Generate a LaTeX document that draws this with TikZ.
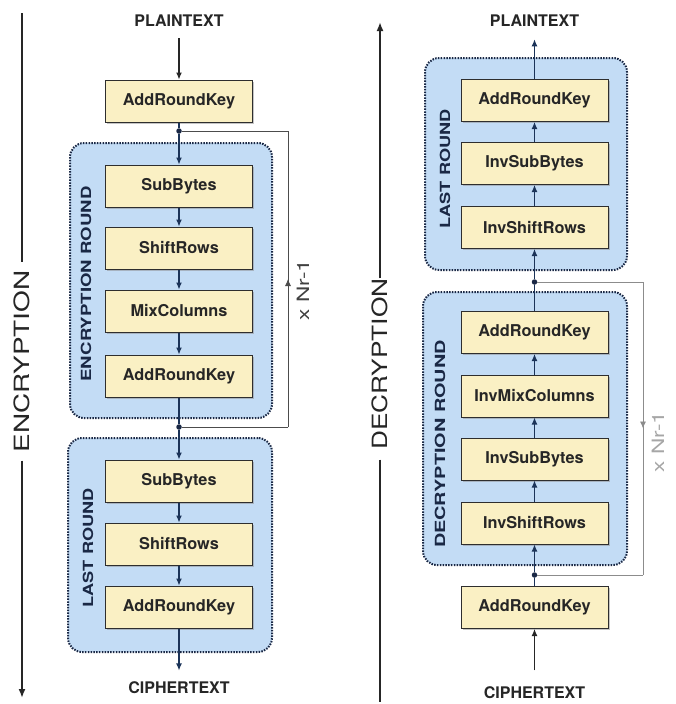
\documentclass[tikz,border=0pt]{standalone}
\usepackage{fontspec}
\setmainfont{TeX Gyre Heros}
\usepackage{graphicx}
\usetikzlibrary{arrows.meta,shadows,decorations.markings}
\definecolor{boxyellow}{HTML}{FAF0C4}
\definecolor{boxline}{HTML}{2E2E2E}
\definecolor{roundblue}{HTML}{C3DCF5}
\definecolor{navy}{HTML}{1A2845}
\definecolor{arrowblue}{HTML}{1B3358}
\begin{document}
\begin{tikzpicture}[x=1pt,y=-1pt,
  blk/.style={draw=boxline, line width=1pt, fill=boxyellow, minimum width=147pt, minimum height=42pt,
    font=\bfseries\fontsize{16.3}{18}\selectfont, text=black!85,
    drop shadow={shadow xshift=1.5pt, shadow yshift=-1.5pt, fill=black!45}},
  grp/.style={draw=navy, fill=roundblue, line width=2pt, dash pattern=on 1.5pt off 1.3pt, rounded corners=14pt},
  grplabel/.style={rotate=90, font=\bfseries\fontsize{14}{16}\selectfont, text=navy},
  io/.style={font=\bfseries\fontsize{16}{18}\selectfont, text=black!85},
  arr/.style={draw=arrowblue, line width=1.1pt, -{Latex[length=7pt,width=6pt]}},
  inarr/.style={draw=black!85, line width=1.1pt, -{Latex[length=7pt,width=6pt]}},
  flow/.style={draw=arrowblue, line width=1.1pt},
  midarrow/.style={postaction={decorate}, decoration={markings, mark=at position 0.5 with {\arrow{Latex[length=7pt,width=6pt]}}}},
  sideline/.style={draw=black!85, line width=1.8pt},
  sidelab/.style={rotate=90, font=\fontsize{21}{24}\selectfont, text=black!85, inner sep=0pt},
  dot/.style={circle, fill=navy, inner sep=0pt, minimum size=5.5pt}
]
\useasboundingbox[fill=white] (0,0) rectangle (675,704);

% ---------- containers ----------
\node[grp, minimum width=202pt, minimum height=275pt] (encround) at (171,280.5) {};
\node[grp, minimum width=204pt, minimum height=214pt] (lastL) at (170,545) {};
\node[grp, minimum width=202pt, minimum height=212pt] (lastR) at (526,164) {};
\node[grp, minimum width=204pt, minimum height=273pt] (decround) at (525,428.5) {};

\node[grplabel] (encroundlab) at (86,284) {\scalebox{1.33}[1]{ENCRYPTION ROUND}};
\node[grplabel] (lastLlab) at (88,548) {\scalebox{1.3}[1]{LAST ROUND}};
\node[grplabel] (lastRlab) at (445,169) {\scalebox{1.3}[1]{LAST ROUND}};
\node[grplabel] (decroundlab) at (440,444) {\scalebox{1.42}[1]{DECRYPTION ROUND}};

% ---------- encryption column ----------
\node[io] (ptL) at (179,21) {PLAINTEXT};
\node[blk] (a0) at (179,101) {AddRoundKey};
\node[blk] (sb1) at (179,186) {SubBytes};
\node[blk] (sr1) at (179,248) {ShiftRows};
\node[blk] (mc1) at (179,311) {MixColumns};
\node[blk] (a1) at (179,376) {AddRoundKey};
\node[blk] (sb2) at (179,481) {SubBytes};
\node[blk] (sr2) at (179,544) {ShiftRows};
\node[blk] (a2) at (179,607) {AddRoundKey};
\node[io] (ctL) at (179,688) {CIPHERTEXT};

\node[dot] (d1) at (179,131) {};
\node[dot] (d2) at (179,427) {};
\coordinate (l1) at (288,131);
\coordinate (l2) at (288,427);

\draw[inarr, shorten <=8pt] (ptL) -- (a0);
\draw[flow] (a0) -- (d1);
\draw[arr] (d1) -- (sb1);
\draw[arr] (sb1) -- (sr1);
\draw[arr] (sr1) -- (mc1);
\draw[arr] (mc1) -- (a1);
\draw[flow] (a1) -- (d2);
\draw[arr] (d2) -- (sb2);
\draw[arr] (sb2) -- (sr2);
\draw[arr] (sr2) -- (a2);
\draw[arr, shorten >=8pt] (a2) -- (ctL);

\draw[draw=black!70, line width=0.9pt] (d1) -- (l1);
\draw[draw=black!70, line width=0.9pt] (l2) -- (d2);
\draw[draw=black!70, line width=0.9pt, midarrow] (l2) -- (l1);
\node[rotate=90, font=\fontsize{17}{20}\selectfont, text=black!75] (nrL) at (303,290) {\scalebox{1.33}[1]{x Nr-1}};

% ---------- decryption column ----------
\node[io] (ptR) at (534.5,21) {PLAINTEXT};
\node[blk] (ra3) at (534.5,100.5) {AddRoundKey};
\node[blk] (risb2) at (534.5,163.5) {InvSubBytes};
\node[blk] (risr2) at (534.5,227.5) {InvShiftRows};
\node[blk] (ra2) at (534.5,332.5) {AddRoundKey};
\node[blk] (rimc) at (534.5,396) {InvMixColumns};
\node[blk] (risb1) at (534.5,459) {InvSubBytes};
\node[blk] (risr1) at (534.5,523) {InvShiftRows};
\node[blk] (ra0) at (534.5,607.5) {AddRoundKey};
\node[io] (ctR) at (534.5,693) {CIPHERTEXT};

\node[dot] (d3) at (534.5,282) {};
\node[dot] (d4) at (534.5,575) {};
\coordinate (r1) at (643,282);
\coordinate (r2) at (643,575);

\draw[inarr, shorten <=13pt] (ctR) -- (ra0);
\draw[flow] (ra0) -- (d4);
\draw[arr] (d4) -- (risr1);
\draw[arr] (risr1) -- (risb1);
\draw[arr] (risb1) -- (rimc);
\draw[arr] (rimc) -- (ra2);
\draw[flow] (ra2) -- (d3);
\draw[arr] (d3) -- (risr2);
\draw[arr] (risr2) -- (risb2);
\draw[arr] (risb2) -- (ra3);
\draw[arr, shorten >=9pt] (ra3) -- (ptR);

\draw[draw=black!45, line width=0.9pt] (d3) -- (r1);
\draw[draw=black!45, line width=0.9pt] (r2) -- (d4);
\draw[draw=black!45, line width=0.9pt, midarrow] (r1) -- (r2);
\node[rotate=90, font=\fontsize{17}{20}\selectfont, text=black!35] (nrR) at (658,442) {\scalebox{1.33}[1]{x Nr-1}};

% ---------- side labels ----------
\node[sidelab] (enclab) at (22,361.5) {\scalebox{1.33}[1]{ENCRYPTION}};
\coordinate (e1) at (22,13);
\coordinate (e4) at (22,698);
\draw[sideline, shorten >=8pt] (e1) -- (enclab.east);
\draw[sideline, shorten <=8pt, -{Latex[length=9pt,width=7pt]}] (enclab.west) -- (e4);

\node[sidelab] (declab) at (380,364) {\scalebox{1.25}[1]{DECRYPTION}};
\coordinate (f1) at (380,14);
\coordinate (f4) at (380,702);
\draw[sideline, shorten >=8pt, -{Latex[length=9pt,width=7pt]}] (declab.east) -- (f1);
\draw[sideline, shorten <=10pt] (declab.west) -- (f4);
\end{tikzpicture}
\end{document}
